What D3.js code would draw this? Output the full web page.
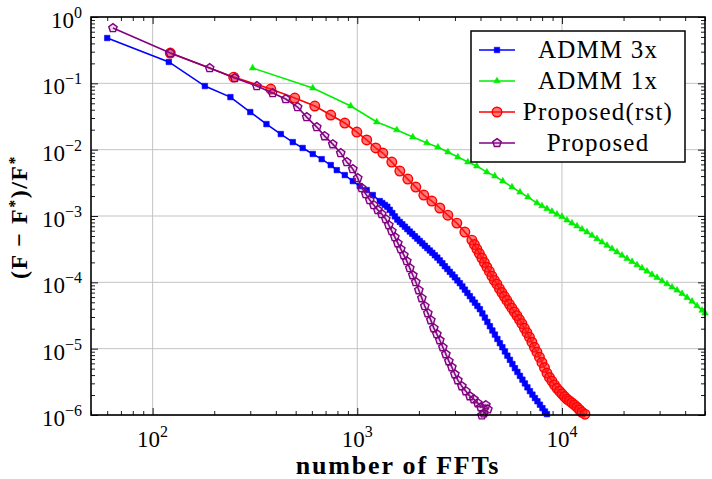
<!DOCTYPE html>
<html>
<head>
<meta charset="utf-8">
<script src="https://cdn.jsdelivr.net/npm/d3@7"></script>
<style>
  body { margin: 0; background: #fff; }
  text { font-family: "Liberation Serif", "DejaVu Serif", serif; }
</style>
</head>
<body>
<div id="chart"></div>
<script>
// values (x = number of FFTs, y = relative error)
const admm3X = [60,120,180,240,300,360,423,484,541,606,670,742,794,869,951,1028,1112,1191,
  1288,1325,1363,1402,1441,1483,1526,1569,1614,1660,1708,1756,1806,1857,1911,1965,2021,2079,2138,2199,
  2262,2326,2393,2461,2531,2604,2678,2755,2833,2914,2998,3083,3171,3262,3355,3451,3549,3650,3755,3862,
  3972,4085,4202,4322,4446,4572,4703,4837,4976,5117,5264,5413,5569,5727,5891,6059,6232,6410,6594,6781,
  6975,7174,7379,7590,7806,8029,8259,8447];
const admm3Y = [0.482,0.21,0.091,0.062,0.0369,0.0243,0.0172,0.013,0.0106,0.0086,0.0072,0.00586,0.00492,0.00414,0.00336,0.00283,0.00246,0.00207,
  1.68e-3,1.57e-3,1.47e-3,1.38e-3,1.24e-3,1.11e-3,9.87e-4,8.83e-4,8.13e-4,7.50e-4,6.90e-4,6.34e-4,5.83e-4,5.39e-4,4.95e-4,4.56e-4,4.20e-4,3.87e-4,3.56e-4,3.28e-4,
  3.02e-4,2.79e-4,2.56e-4,2.36e-4,2.14e-4,1.94e-4,1.75e-4,1.59e-4,1.44e-4,1.31e-4,1.19e-4,1.07e-4,9.72e-5,8.67e-5,7.76e-5,6.92e-5,6.19e-5,5.52e-5,4.94e-5,4.41e-5,
  3.94e-5,3.40e-5,2.94e-5,2.53e-5,2.18e-5,1.88e-5,1.63e-5,1.40e-5,1.21e-5,1.05e-5,9.08e-6,7.84e-6,6.78e-6,5.87e-6,5.08e-6,4.46e-6,3.89e-6,3.41e-6,2.99e-6,2.61e-6,
  2.29e-6,2.03e-6,1.80e-6,1.61e-6,1.43e-6,1.27e-6,1.13e-6,1.03e-6];

const admm1X = [308,606,929,1245,1560,1868,2188,2477,2773,3100,3469,3837,4295,4699,5140,5702,6237,6823,7551,7983,
  8447,8936,9453,10000,10580,11190,11840,12530,13250,14020,14830,15690,16600,17560,18580,19650,20790,21990,23260,24610,
  26040,27540,29140,30830,32610,34510,36500,38620,40860,43220,45720,48380,50000];
const admm1Y = [0.170,0.085,0.0455,0.0261,0.0198,0.0155,0.0126,0.0109,0.0092,0.00773,0.0065,0.00566,0.00459,0.00400,0.00336,0.00273,0.00229,0.00193,0.00157,1.42e-3,
  1.29e-3,1.17e-3,1.06e-3,9.8e-4,8.67e-4,7.81e-4,7.05e-4,6.34e-4,5.72e-4,5.09e-4,4.53e-4,4.04e-4,3.60e-4,3.21e-4,2.86e-4,2.55e-4,2.28e-4,2.05e-4,1.83e-4,1.64e-4,
  1.47e-4,1.31e-4,1.18e-4,1.05e-4,9.46e-5,8.47e-5,7.60e-5,6.76e-5,5.90e-5,5.17e-5,4.42e-5,3.78e-5,3.43e-5];

const rstX = [122,249,378,495,620,742,869,995,1112,1231,1333,1475,1614,1766,1932,2114,2314,2531,2770,3066,3355,
  3630,3735,3840,3951,4062,4180,4298,4421,4547,4677,4810,4948,5088,5235,5383,5538,5694,5858,6025,6197,
  6373,6555,6743,6937,7133,7338,7547,7763,7983,8212,8447,8689,8936,9191,9453,9723,10000,10290,10580,10880,
  11190,11510,11840,12180,12530,12960];
const rstY = [0.286,0.124,0.082,0.060,0.0455,0.0333,0.0252,0.0184,0.0140,0.0106,8.89e-3,6.50e-3,4.76e-3,3.60e-3,2.73e-3,2.07e-3,1.68e-3,1.32e-3,1.03e-3,7.81e-4,5.72e-4,
  4.33e-4,3.71e-4,3.17e-4,2.72e-4,2.32e-4,1.99e-4,1.69e-4,1.46e-4,1.24e-4,1.07e-4,9.39e-5,8.04e-5,7.01e-5,6.11e-5,5.33e-5,4.66e-5,4.08e-5,3.58e-5,3.15e-5,2.75e-5,
  2.38e-5,2.03e-5,1.74e-5,1.49e-5,1.25e-5,1.05e-5,8.85e-6,7.45e-6,6.19e-6,5.20e-6,4.29e-6,3.68e-6,3.24e-6,2.84e-6,2.53e-6,2.29e-6,2.09e-6,1.90e-6,1.74e-6,1.63e-6,
  1.52e-6,1.42e-6,1.31e-6,1.20e-6,1.10e-6,1.03e-6];

const propX = [64,122,190,252,323,386,447,511,566,634,693,759,830,889,951,1005,1052,1101,1151,1204,
  1260,1318,1378,1426,1475,1526,1578,1632,1689,1746,1806,1868,1932,1999,2068,2138,2212,2288,2366,2448,
  2531,2619,2709,2802,2898,2998,3100,3243,3393,3549,3713,3883,4017,4250,4346,4155,4063];
const propY = [0.682,0.286,0.170,0.120,0.091,0.0714,0.058,0.0439,0.0310,0.0219,0.0160,0.0121,0.00889,0.0065,0.0051,0.00373,2.64e-3,2.14e-3,1.74e-3,1.46e-3,
  1.23e-3,1.07e-3,8.98e-4,7.29e-4,5.92e-4,4.81e-4,3.90e-4,3.17e-4,2.57e-4,2.09e-4,1.64e-4,1.28e-4,1.01e-4,7.62e-5,5.78e-5,4.38e-5,3.43e-5,2.69e-5,2.04e-5,1.66e-5,
  1.34e-5,1.05e-5,8.26e-6,6.48e-6,5.26e-6,4.12e-6,3.35e-6,2.72e-6,2.29e-6,1.92e-6,1.73e-6,1.51e-6,1.31e-6,1.41e-6,1.22e-6,1.06e-6,0.99e-6];

const seriesNames = ["ADMM 3x", "ADMM 1x", "Proposed(rst)", "Proposed"];
const xMajor = [1e2, 1e3, 1e4];
const yMajor = [1e-6, 1e-5, 1e-4, 1e-3, 1e-2, 1e-1, 1e0];
const xTitle = "number of FFTs";

// set the dimensions
var w = 712, h = 479;
var plot = {left: 91, top: 17, right: 705, bottom: 415};

var svg = d3.select("#chart").append("svg")
    .attr("width", w)
    .attr("height", h);

var x = d3.scaleLog().domain([50, 50000]).range([plot.left, plot.right]);
var y = d3.scaleLog().domain([1e-6, 1]).range([plot.bottom, plot.top]);

// pentagon marker (d3 has none)
const symbolPentagon = {
  draw(ctx, size) {
    const r = Math.sqrt(size / 2.378);
    for (let i = 0; i < 5; i++) {
      const a = -Math.PI / 2 + i * 2 * Math.PI / 5;
      if (i) ctx.lineTo(r * Math.cos(a), r * Math.sin(a));
      else ctx.moveTo(r * Math.cos(a), r * Math.sin(a));
    }
    ctx.closePath();
  }
};

const styles = [
  {color: "#0000ff", symbol: d3.symbolSquare, size: 30, fill: "#0000ff", sw: 0.6},
  {color: "#00ee00", symbol: d3.symbolTriangle, size: 18, fill: "#00ee00", sw: 0.6},
  {color: "#ff0000", symbol: d3.symbolCircle, size: 72, fill: "rgba(255,30,30,0.6)", sw: 1.4},
  {color: "#800080", symbol: symbolPentagon, size: 46, fill: "rgba(150,60,150,0.18)", sw: 1.4}
];

const series = [
  {name: seriesNames[0], xs: admm3X, ys: admm3Y},
  {name: seriesNames[1], xs: admm1X, ys: admm1Y},
  {name: seriesNames[2], xs: rstX, ys: rstY},
  {name: seriesNames[3], xs: propX, ys: propY}
].map((s, i) => Object.assign(s, styles[i], {pts: s.xs.map((v, j) => [v, s.ys[j]])}));

// grid lines
svg.append("g").selectAll("line.gx")
  .data(xMajor).join("line")
    .attr("x1", d => x(d)).attr("x2", d => x(d))
    .attr("y1", plot.top).attr("y2", plot.bottom)
    .style("stroke", "#c4c4c4").style("stroke-width", 1);
svg.append("g").selectAll("line.gy")
  .data(yMajor).join("line")
    .attr("x1", plot.left).attr("x2", plot.right)
    .attr("y1", d => y(d)).attr("y2", d => y(d))
    .style("stroke", "#c4c4c4").style("stroke-width", 1);

// ticks on all four sides, pointing inward
const xMinor = x.ticks().filter(d => !xMajor.includes(d));
const yMinor = y.ticks().filter(d => !yMajor.some(m => Math.abs(m - d) < d * 1e-6));

function tickAxis(axisFn, scale, values, size, tr) {
  svg.append("g").attr("transform", tr)
    .call(axisFn(scale).tickValues(values).tickSize(size).tickFormat(""))
    .call(g => g.select(".domain").remove())
    .call(g => g.selectAll(".tick line").style("stroke", "#000").style("stroke-width", 0.9));
}
tickAxis(d3.axisBottom, x, xMajor, -7, `translate(0,${plot.bottom})`);
tickAxis(d3.axisBottom, x, xMinor, -4, `translate(0,${plot.bottom})`);
tickAxis(d3.axisTop, x, xMajor, -7, `translate(0,${plot.top})`);
tickAxis(d3.axisTop, x, xMinor, -4, `translate(0,${plot.top})`);
tickAxis(d3.axisLeft, y, yMajor, -7, `translate(${plot.left},0)`);
tickAxis(d3.axisLeft, y, yMinor, -4, `translate(${plot.left},0)`);
tickAxis(d3.axisRight, y, yMajor, -7, `translate(${plot.right},0)`);
tickAxis(d3.axisRight, y, yMinor, -4, `translate(${plot.right},0)`);

// power of ten labels
function expo(d) {
  var e = Math.round(Math.log10(d));
  return e < 0 ? "\u2212" + (-e) : String(e);
}
function powLabel(sel) {
  sel.append("tspan").text("10");
  sel.append("tspan").attr("dy", -10).style("font-size", "16px").text(d => expo(d));
}
svg.append("g").selectAll("text")
  .data(xMajor).join("text")
    .attr("x", d => x(d)).attr("y", plot.bottom + 32)
    .attr("text-anchor", "middle")
    .style("font-size", "23px")
    .call(powLabel);
svg.append("g").selectAll("text")
  .data(yMajor).join("text")
    .attr("x", plot.left - 9).attr("y", d => y(d) + 11)
    .attr("text-anchor", "end")
    .style("font-size", "23px")
    .call(powLabel);

// axis titles
svg.append("text")
    .attr("x", (plot.left + plot.right) / 2).attr("y", 474)
    .attr("text-anchor", "middle")
    .style("font-size", "26px").style("font-weight", "bold").style("letter-spacing", "1.8px")
    .text(xTitle);

var yt = svg.append("text")
    .attr("transform", "translate(27,217) rotate(-90)")
    .attr("text-anchor", "middle")
    .style("font-size", "24px").style("font-weight", "bold").style("letter-spacing", "1.5px");
yt.append("tspan").text("(F \u2212 F");
yt.append("tspan").attr("dy", -7).style("font-size", "16px").text("*");
yt.append("tspan").attr("dy", 7).text(")/F");
yt.append("tspan").attr("dy", -7).style("font-size", "16px").text("*");

// series lines and markers
var line = d3.line().x(d => x(d[0])).y(d => y(d[1]));

series.forEach(function(s) {
  var g = svg.append("g");
  g.append("path")
    .attr("d", line(s.pts))
    .style("fill", "none")
    .style("stroke", s.color)
    .style("stroke-width", 1.6);
  g.selectAll("path.mk")
    .data(s.pts).join("path")
      .attr("class", "mk")
      .attr("transform", d => `translate(${x(d[0])},${y(d[1])})`)
      .attr("d", d3.symbol(s.symbol, s.size))
      .style("fill", s.fill)
      .style("stroke", s.color)
      .style("stroke-width", s.sw);
});

// frame
svg.append("rect")
    .attr("x", plot.left).attr("y", plot.top)
    .attr("width", plot.right - plot.left).attr("height", plot.bottom - plot.top)
    .style("fill", "none").style("stroke", "#000").style("stroke-width", 1.6);

// legend
var lg = svg.append("g");
lg.append("rect")
    .attr("x", 471).attr("y", 31).attr("width", 214).attr("height", 131)
    .style("fill", "#fff").style("stroke", "#000").style("stroke-width", 1.5);
series.forEach(function(s, i) {
  var cy = 50 + i * 31;
  lg.append("line")
    .attr("x1", 479).attr("x2", 515).attr("y1", cy).attr("y2", cy)
    .style("stroke", s.color).style("stroke-width", 1.6);
  lg.append("path")
    .attr("transform", `translate(497,${cy})`)
    .attr("d", d3.symbol(s.symbol, s.size)())
    .style("fill", s.fill).style("stroke", s.color).style("stroke-width", s.sw);
  lg.append("text")
    .attr("x", 598).attr("y", cy + 8)
    .attr("text-anchor", "middle")
    .style("font-size", "25px").style("letter-spacing", "1.2px")
    .text(s.name);
});
</script>
</body>
</html>
